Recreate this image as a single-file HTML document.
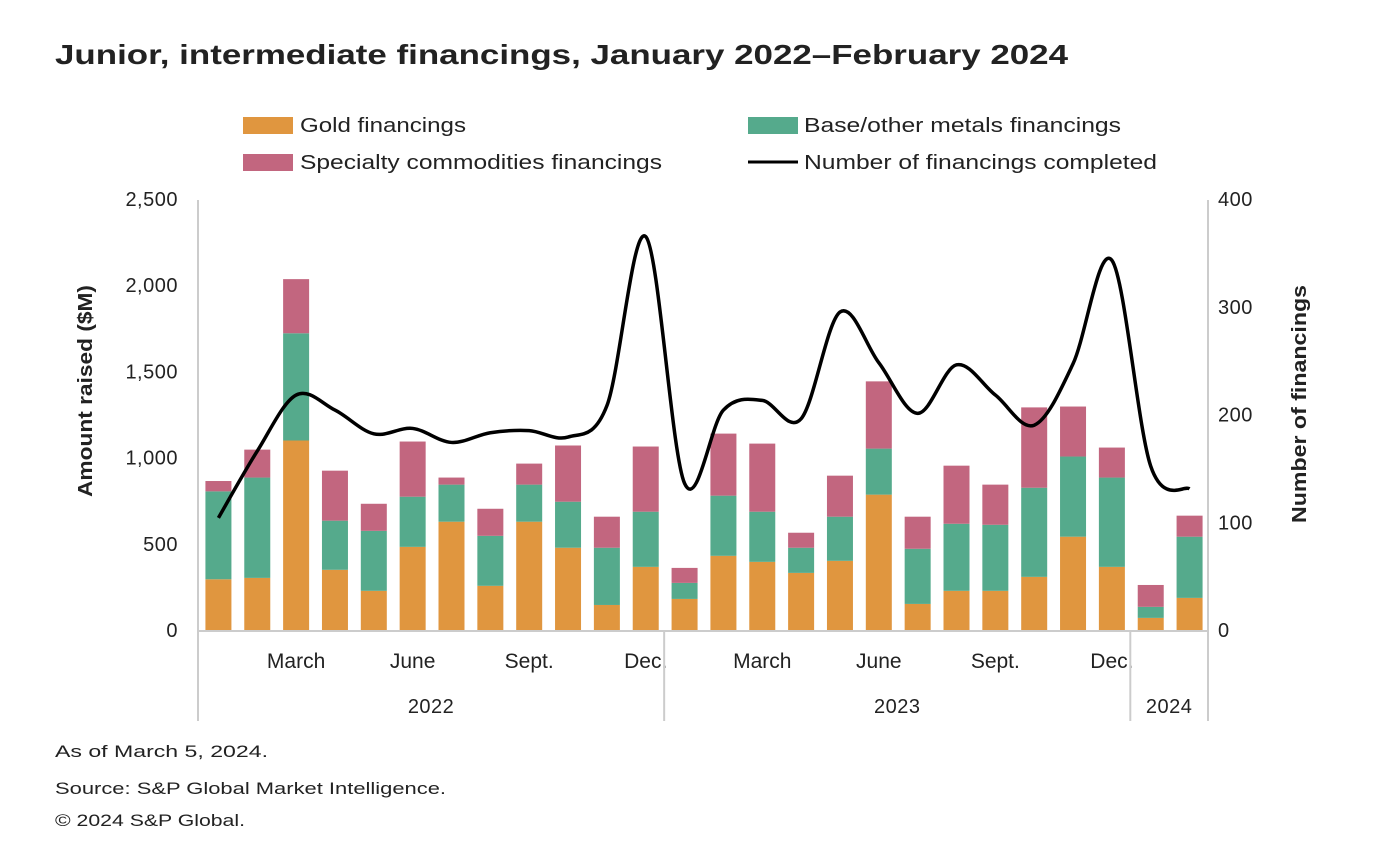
<!DOCTYPE html>
<html><head><meta charset="utf-8">
<style>
html,body{margin:0;padding:0;background:#fff;}
body{width:1374px;height:854px;overflow:hidden;font-family:"Liberation Sans",sans-serif;}
svg text{font-family:"Liberation Sans",sans-serif;fill:#222;}
</style></head>
<body>
<svg id="chart" width="1374" height="854">
<text x="55" y="64" font-size="28" font-weight="bold" fill="#111" textLength="1013" lengthAdjust="spacingAndGlyphs">Junior, intermediate financings, January 2022–February 2024</text>
<g>
<rect x="243" y="117" width="50" height="17" fill="#E0963F"/>
<text x="300" y="132" font-size="20" textLength="166" lengthAdjust="spacingAndGlyphs">Gold financings</text>
<rect x="748" y="117" width="50" height="17" fill="#55AA8C"/>
<text x="804" y="132" font-size="20" textLength="317" lengthAdjust="spacingAndGlyphs">Base/other metals financings</text>
<rect x="243" y="154" width="50" height="17" fill="#C2667F"/>
<text x="300" y="169" font-size="20" textLength="362" lengthAdjust="spacingAndGlyphs">Specialty commodities financings</text>
<line x1="748" y1="162" x2="798" y2="162" stroke="#000" stroke-width="3"/>
<text x="804" y="169" font-size="20" textLength="353" lengthAdjust="spacingAndGlyphs">Number of financings completed</text>
</g>
<text transform="translate(92,391) rotate(-90)" text-anchor="middle" font-size="20" font-weight="bold" fill="#111" textLength="212" lengthAdjust="spacingAndGlyphs">Amount raised ($M)</text>
<text transform="translate(1306,404) rotate(-90)" text-anchor="middle" font-size="20" font-weight="bold" fill="#111" textLength="238" lengthAdjust="spacingAndGlyphs">Number of financings</text>
<g id="plot"></g>
<text x="55" y="757" font-size="17" textLength="213" lengthAdjust="spacingAndGlyphs">As of March 5, 2024.</text>
<text x="55" y="794" font-size="17" textLength="391" lengthAdjust="spacingAndGlyphs">Source: S&amp;P Global Market Intelligence.</text>
<text x="55" y="826" font-size="17" textLength="190" lengthAdjust="spacingAndGlyphs">© 2024 S&amp;P Global.</text>
</svg>
<script>
const months = ["Jan","Feb","March","Apr","May","June","Jul","Aug","Sept.","Oct","Nov","Dec.","Jan","Feb","March","Apr","May","June","Jul","Aug","Sept.","Oct","Nov","Dec.","Jan","Feb"];
const labelIdx = [2,5,8,11,14,17,20,23];
const gold = [300,308,1105,355,233,488,634,262,634,483,151,372,186,436,401,337,407,791,157,233,233,314,547,372,76,192];
const base = [510,582,622,285,348,291,215,290,215,267,332,320,93,349,291,146,256,267,320,389,383,517,465,518,64,355];
const specialty = [60,162,314,290,157,320,41,157,122,326,180,378,87,360,395,87,238,390,186,337,233,466,290,174,127,122];
const counts = [105,167,219,205,183,188,175,184,186,180,209,366,137,205,214,197,296,249,202,247,219,191,248,344,153,132];
const leftTicks = [0,500,1000,1500,2000,2500];
const rightTicks = [0,100,200,300,400];
const years = [{label:"2022",from:0,to:12},{label:"2023",from:12,to:24},{label:"2024",from:24,to:26}];

const NS="http://www.w3.org/2000/svg";
const plot=document.getElementById('plot');
const X0=198,X1=1208,Y0=631,Ytop=200;
const step=(X1-X0)/26, bw=26;
const xC=i=>X0+step*(i+0.5)+1;
const yL=v=>Y0-(Y0-Ytop)*v/2500;
const yR=v=>Y0-(Y0-Ytop)*v/400;
function mk(tag,attrs){const e=document.createElementNS(NS,tag);for(const k in attrs)e.setAttribute(k,attrs[k]);plot.appendChild(e);return e;}

leftTicks.forEach(t=>{const e=mk('text',{x:178,y:yL(t)+6,'text-anchor':'end','font-size':20,'letter-spacing':'0.5'});e.textContent=t.toLocaleString('en-US');

});
rightTicks.forEach(t=>{const e=mk('text',{x:1218,y:yR(t)+6,'font-size':20,'letter-spacing':'0.5'});e.textContent=t;

});

const series=[[gold,'#E0963F','gold'],[base,'#55AA8C','base'],[specialty,'#C2667F','specialty']];
months.forEach((m,i)=>{let cum=0;series.forEach(([arr,col,nm])=>{const v=arr[i];
const r=mk('rect',{x:xC(i)-bw/2,y:yL(cum+v),width:bw,height:yL(cum)-yL(cum+v),fill:col});


cum+=v;});});

let ax=mk('line',{x1:X0,y1:Ytop,x2:X0,y2:721,stroke:'#ccc','stroke-width':2});


let ax2=mk('line',{x1:X1,y1:Ytop,x2:X1,y2:721,stroke:'#ccc','stroke-width':2});


let bl=mk('line',{x1:X0,y1:Y0,x2:X1,y2:Y0,stroke:'#ccc','stroke-width':2});



labelIdx.forEach(i=>{const e=mk('text',{x:xC(i),y:668,'text-anchor':'middle','font-size':21});e.textContent=months[i];

});
years.forEach(y=>{const xa=X0+step*y.from,xb=X0+step*y.to;
if(y.from>0){const s=mk('line',{x1:xa,y1:Y0,x2:xa,y2:721,stroke:'#ccc','stroke-width':2});

}
const e=mk('text',{x:(xa+xb)/2,y:713,'text-anchor':'middle','font-size':20,'letter-spacing':'0.5'});e.textContent=y.label;

});

const pts=counts.map((c,i)=>[xC(i),yR(c)]);
let d='M'+pts[0][0]+','+pts[0][1];
for(let i=0;i<pts.length-1;i++){const p0=pts[i-1]||pts[i],p1=pts[i],p2=pts[i+1],p3=pts[i+2]||p2;
const c1=[p1[0]+(p2[0]-p0[0])/6,p1[1]+(p2[1]-p0[1])/6],c2=[p2[0]-(p3[0]-p1[0])/6,p2[1]-(p3[1]-p1[1])/6];
d+=` C${c1[0]},${c1[1]} ${c2[0]},${c2[1]} ${p2[0]},${p2[1]}`;}
const ln=mk('path',{d:d,fill:'none',stroke:'#000','stroke-width':3.5,'stroke-linejoin':'round'});


</script>
</body></html>
